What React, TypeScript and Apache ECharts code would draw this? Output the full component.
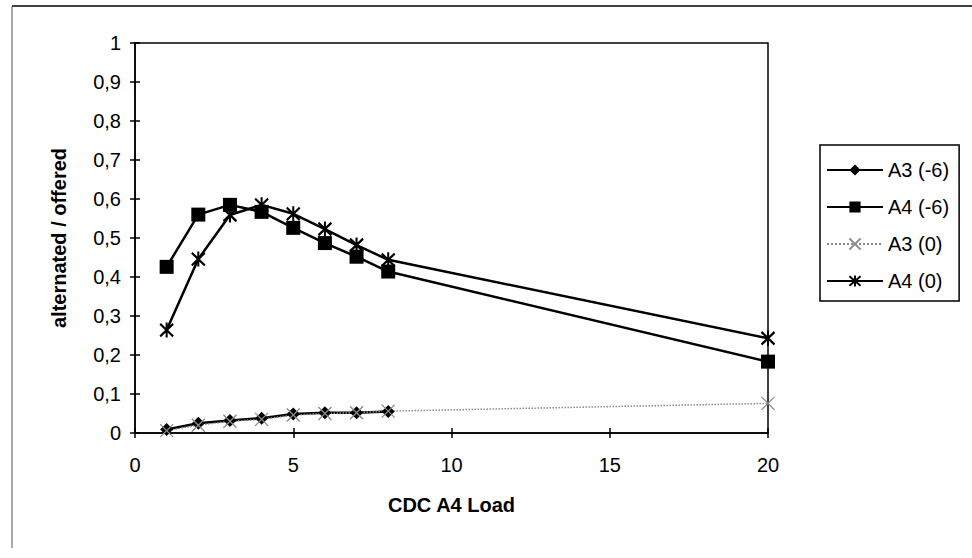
import React, { useEffect, useRef } from "react";
import * as echarts from "echarts";

const loadsA = [1, 2, 3, 4, 5, 6, 7, 8];
const loadsB = [1, 2, 3, 4, 5, 6, 7, 8, 20];
const a3m6 = [0.009, 0.025, 0.032, 0.038, 0.049, 0.052, 0.052, 0.055];
const a4m6 = [0.426, 0.56, 0.585, 0.567, 0.526, 0.487, 0.452, 0.414, 0.183];
const a3z = [0.006, 0.02, 0.03, 0.035, 0.046, 0.05, 0.052, 0.056, 0.076];
const a4z = [0.264, 0.446, 0.559, 0.585, 0.562, 0.523, 0.482, 0.444, 0.243];
const seriesNames = ["A3 (-6)", "A4 (-6)", "A3 (0)", "A4 (0)"];
const xTicks = { min: 0, max: 20, interval: 5 };
const yTicks = { min: 0, max: 1, interval: 0.1 };

const FONT = "'Liberation Sans', Arial, sans-serif";

const pair = (xs: number[], ys: number[]) => ys.map((y, i) => [xs[i], y]);

export default function App() {
  const ref = useRef<HTMLDivElement>(null);
  useEffect(() => {
    if (!ref.current) return;
    const chart = echarts.init(ref.current, null, { renderer: "svg" });
    const axisText = { color: "#000", fontFamily: FONT, fontSize: 20 };
    const option: any = {
      animation: false,
      backgroundColor: "#fff",
      grid: {
        left: 135,
        right: 204,
        top: 43,
        bottom: 125,
        show: true,
        borderColor: "#000",
        borderWidth: 1.5,
      },
      legend: {
        orient: "vertical",
        left: 820,
        top: 145,
        data: seriesNames,
        itemWidth: 56,
        itemHeight: 14,
        itemGap: 17,
        padding: [15, 10, 10, 6],
        borderColor: "#000",
        borderWidth: 1.5,
        textStyle: { color: "#000", fontFamily: FONT, fontSize: 20 },
      },
      xAxis: [
        {
          type: "value",
          ...xTicks,
          name: "CDC A4 Load",
          nameLocation: "middle",
          nameGap: 62,
          nameTextStyle: { ...axisText, fontWeight: "bold" },
          axisLine: { lineStyle: { color: "#000", width: 1.5 } },
          axisTick: { show: true, length: 5, lineStyle: { color: "#000", width: 1.5 } },
          axisLabel: { ...axisText, margin: 22 },
          splitLine: { show: false },
        },
        {
          type: "value",
          ...xTicks,
          position: "bottom",
          axisLine: { show: false },
          axisTick: { show: true, inside: true, length: 5, lineStyle: { color: "#000", width: 1.5 } },
          axisLabel: { show: false },
          splitLine: { show: false },
        },
      ],
      yAxis: [
        {
          type: "value",
          ...yTicks,
          name: "alternated / offered",
          nameLocation: "middle",
          nameGap: 66,
          nameTextStyle: { ...axisText, fontWeight: "bold" },
          axisLine: { show: true, lineStyle: { color: "#000", width: 1.5 } },
          axisTick: { show: true, length: 5, lineStyle: { color: "#000", width: 1.5 } },
          axisLabel: {
            ...axisText,
            margin: 14,
            formatter: (v: number) => String(Math.round(v * 10) / 10).replace(".", ","),
          },
          splitLine: { show: false },
        },
        {
          type: "value",
          ...yTicks,
          position: "left",
          axisLine: { show: false },
          axisTick: { show: true, inside: true, length: 5, lineStyle: { color: "#000", width: 1.5 } },
          axisLabel: { show: false },
          splitLine: { show: false },
        },
      ],
      series: [
        {
          name: seriesNames[0],
          type: "line",
          data: pair(loadsA, a3m6),
          symbol: "diamond",
          symbolSize: 13,
          lineStyle: { color: "#000", width: 2.5 },
          itemStyle: { color: "#000" },
        },
        {
          name: seriesNames[1],
          type: "line",
          data: pair(loadsB, a4m6),
          symbol: "rect",
          symbolSize: 14,
          lineStyle: { color: "#000", width: 2.5 },
          itemStyle: { color: "#000" },
        },
        {
          name: seriesNames[2],
          type: "line",
          data: pair(loadsB, a3z),
          symbol: "path://M0,0L10,10M10,0L0,10",
          symbolSize: 13,
          lineStyle: { color: "#8a8a8a", width: 1.5, type: "dotted" },
          itemStyle: { color: "#8a8a8a", borderColor: "#8a8a8a", borderWidth: 1.3 },
        },
        {
          name: seriesNames[3],
          type: "line",
          data: pair(loadsB, a4z),
          symbol: "path://M0,1L10,11M10,1L0,11M5,0L5,12",
          symbolSize: [13, 15],
          lineStyle: { color: "#000", width: 2.5 },
          itemStyle: { color: "#000", borderColor: "#000", borderWidth: 2.2 },
        },
      ],
      graphic: [
        {
          type: "line",
          shape: { x1: 12, y1: 6, x2: 972, y2: 6 },
          style: { stroke: "#000", lineWidth: 1.5 },
        },
        {
          type: "line",
          shape: { x1: 12, y1: 6, x2: 12, y2: 548 },
          style: { stroke: "#555", lineWidth: 1 },
        },
      ],
    };
    chart.setOption(option);
    return () => chart.dispose();
  }, []);
  return (
    <div
      ref={ref}
      style={{ position: "fixed", left: 0, top: 0, width: 972, height: 558 }}
    />
  );
}
